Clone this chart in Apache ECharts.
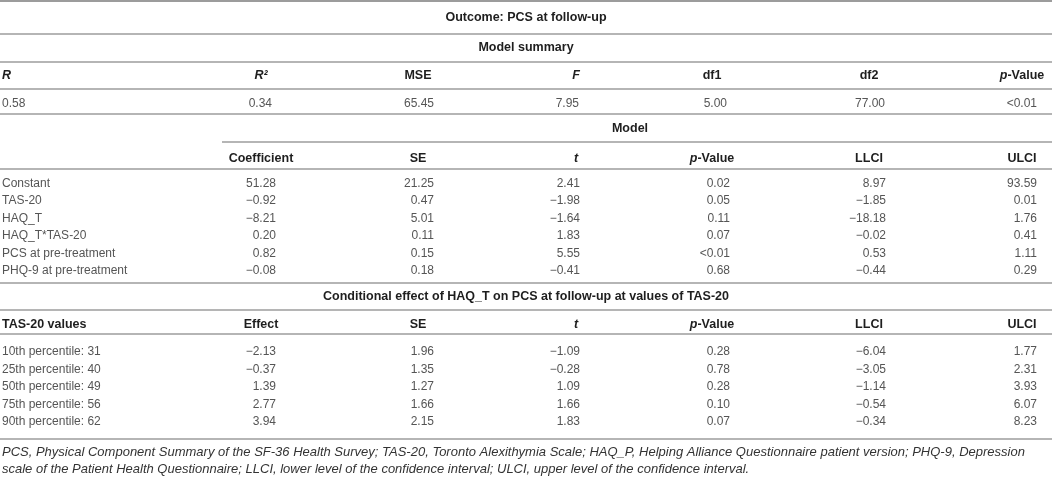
<!DOCTYPE html>
<html>
<head>
  <meta charset="utf-8">
  <script src="https://cdn.jsdelivr.net/npm/echarts@6/dist/echarts.min.js"></script>
</head>
<body style="margin: 0; background: #fff">
  <div id="container" style="width: 1052px; height: 480px"></div>
  <script>
    // table content
    var outcomeTitle = 'Outcome: PCS at follow-up';
    var summaryTitle = 'Model summary';
    var modelTitle = 'Model';
    var condTitle = 'Conditional effect of HAQ_T on PCS at follow-up at values of TAS-20';

    var summaryHeaders = ['{i|R}', '{i|R²}', 'MSE', '{i|F}', 'df1', 'df2', '{i|p}-Value'];
    var summaryValues = [0.58, 0.34, 65.45, 7.95, 5.00, 77.00, '<0.01'];

    var modelHeaders = ['', 'Coefficient', 'SE', '{i|t}', '{i|p}-Value', 'LLCI', 'ULCI'];
    var modelLabels = ['Constant', 'TAS-20', 'HAQ_T', 'HAQ_T*TAS-20', 'PCS at pre-treatment', 'PHQ-9 at pre-treatment'];
    var modelCoef = [51.28, -0.92, -8.21, 0.20, 0.82, -0.08];
    var modelSE = [21.25, 0.47, 5.01, 0.11, 0.15, 0.18];
    var modelT = [2.41, -1.98, -1.64, 1.83, 5.55, -0.41];
    var modelP = [0.02, 0.05, 0.11, 0.07, '<0.01', 0.68];
    var modelLLCI = [8.97, -1.85, -18.18, -0.02, 0.53, -0.44];
    var modelULCI = [93.59, 0.01, 1.76, 0.41, 1.11, 0.29];

    var condHeaders = ['TAS-20 values', 'Effect', 'SE', '{i|t}', '{i|p}-Value', 'LLCI', 'ULCI'];
    var condLabels = ['10th percentile: 31', '25th percentile: 40', '50th percentile: 49', '75th percentile: 56', '90th percentile: 62'];
    var condEffect = [-2.13, -0.37, 1.39, 2.77, 3.94];
    var condSE = [1.96, 1.35, 1.27, 1.66, 2.15];
    var condT = [-1.09, -0.28, 1.09, 1.66, 1.83];
    var condP = [0.28, 0.78, 0.28, 0.10, 0.07];
    var condLLCI = [-6.04, -3.05, -1.14, -0.54, -0.34];
    var condULCI = [1.77, 2.31, 3.93, 6.07, 8.23];

    var footnote = [
      'PCS, Physical Component Summary of the SF-36 Health Survey; TAS-20, Toronto Alexithymia Scale; HAQ_P, Helping Alliance Questionnaire patient version; PHQ-9, Depression',
      'scale of the Patient Health Questionnaire; LLCI, lower level of the confidence interval; ULCI, upper level of the confidence interval.'
    ];

    window.onload = () => {
      var FAM = '"Liberation Sans", Arial, sans-serif';
      var headColor = '#1e1e1e';
      var valColor = '#555';
      var ruleColor = '#9c9c9c';

      // column layout
      var headCenters = [0, 261, 418, 576, 712, 869, 1022];
      var numRights = [0, 276, 434, 580, 730, 886, 1037];
      var sumRights = [0, 272, 434, 579, 727, 885, 1037];

      var els = [];

      function fmt(v) {
        if (typeof v === 'string') return v;
        return (v < 0 ? '−' : '') + Math.abs(v).toFixed(2);
      }

      function text(x, y, str, align, bold, color) {
        els.push({
          type: 'text',
          x: x,
          y: y,
          silent: true,
          style: {
            text: str,
            fontFamily: FAM,
            fontSize: bold ? 12.5 : 12,
            fontWeight: bold ? 'bold' : 'normal',
            fill: color,
            textAlign: align,
            textVerticalAlign: 'middle',
            rich: {
              i: {
                fontFamily: FAM,
                fontSize: bold ? 12.5 : 12,
                fontWeight: bold ? 'bold' : 'normal',
                fontStyle: 'italic',
                fill: color
              }
            }
          }
        });
      }

      function rule(x1, x2, y, w) {
        els.push({
          type: 'line',
          silent: true,
          shape: { x1: x1, y1: y, x2: x2, y2: y },
          style: { stroke: ruleColor, lineWidth: w || 1.5 }
        });
      }

      function headerRow(headers, y) {
        headers.forEach(function (h, i) {
          if (!h) return;
          if (i === 0) text(2, y, h, 'left', true, headColor);
          else text(headCenters[i], y, h, 'center', true, headColor);
        });
      }

      function bodyRows(labels, cols, y0, step) {
        labels.forEach(function (lab, r) {
          var y = y0 + r * step;
          text(2, y, lab, 'left', false, valColor);
          cols.forEach(function (col, c) {
            text(numRights[c + 1], y, fmt(col[r]), 'right', false, valColor);
          });
        });
      }

      // outcome + model summary block
      rule(0, 1052, 1, 2);
      text(526, 18, outcomeTitle, 'center', true, headColor);
      rule(0, 1052, 34);
      text(526, 48, summaryTitle, 'center', true, headColor);
      rule(0, 1052, 62);
      headerRow(summaryHeaders, 76);
      rule(0, 1052, 89);
      summaryValues.forEach(function (v, i) {
        if (i === 0) text(2, 104, fmt(v), 'left', false, valColor);
        else text(sumRights[i], 104, fmt(v), 'right', false, valColor);
      });
      rule(0, 1052, 114);

      // model block
      text(630, 129, modelTitle, 'center', true, headColor);
      rule(222, 1052, 142);
      headerRow(modelHeaders, 159);
      rule(0, 1052, 169);
      bodyRows(modelLabels, [modelCoef, modelSE, modelT, modelP, modelLLCI, modelULCI], 183.5, 17.5);
      rule(0, 1052, 283);

      // conditional effect block
      text(526, 297, condTitle, 'center', true, headColor);
      rule(0, 1052, 310);
      headerRow(condHeaders, 325);
      rule(0, 1052, 334);
      bodyRows(condLabels, [condEffect, condSE, condT, condP, condLLCI, condULCI], 352, 17.5);
      rule(0, 1052, 439);

      // footnote
      footnote.forEach(function (line, i) {
        els.push({
          type: 'text',
          x: 2,
          y: 452 + i * 17.5,
          silent: true,
          style: {
            text: line,
            fontFamily: FAM,
            fontSize: 13,
            fontStyle: 'italic',
            fill: '#333',
            textAlign: 'left',
            textVerticalAlign: 'middle'
          }
        });
      });

      var dom = document.getElementById('container');
      var myChart = echarts.init(dom, null, { renderer: 'canvas' });
      var option = {
        backgroundColor: '#fff',
        animation: false,
        graphic: { elements: els }
      };
      myChart.setOption(option);
      window.addEventListener('resize', myChart.resize);
    };
  </script>
</body>
</html>
